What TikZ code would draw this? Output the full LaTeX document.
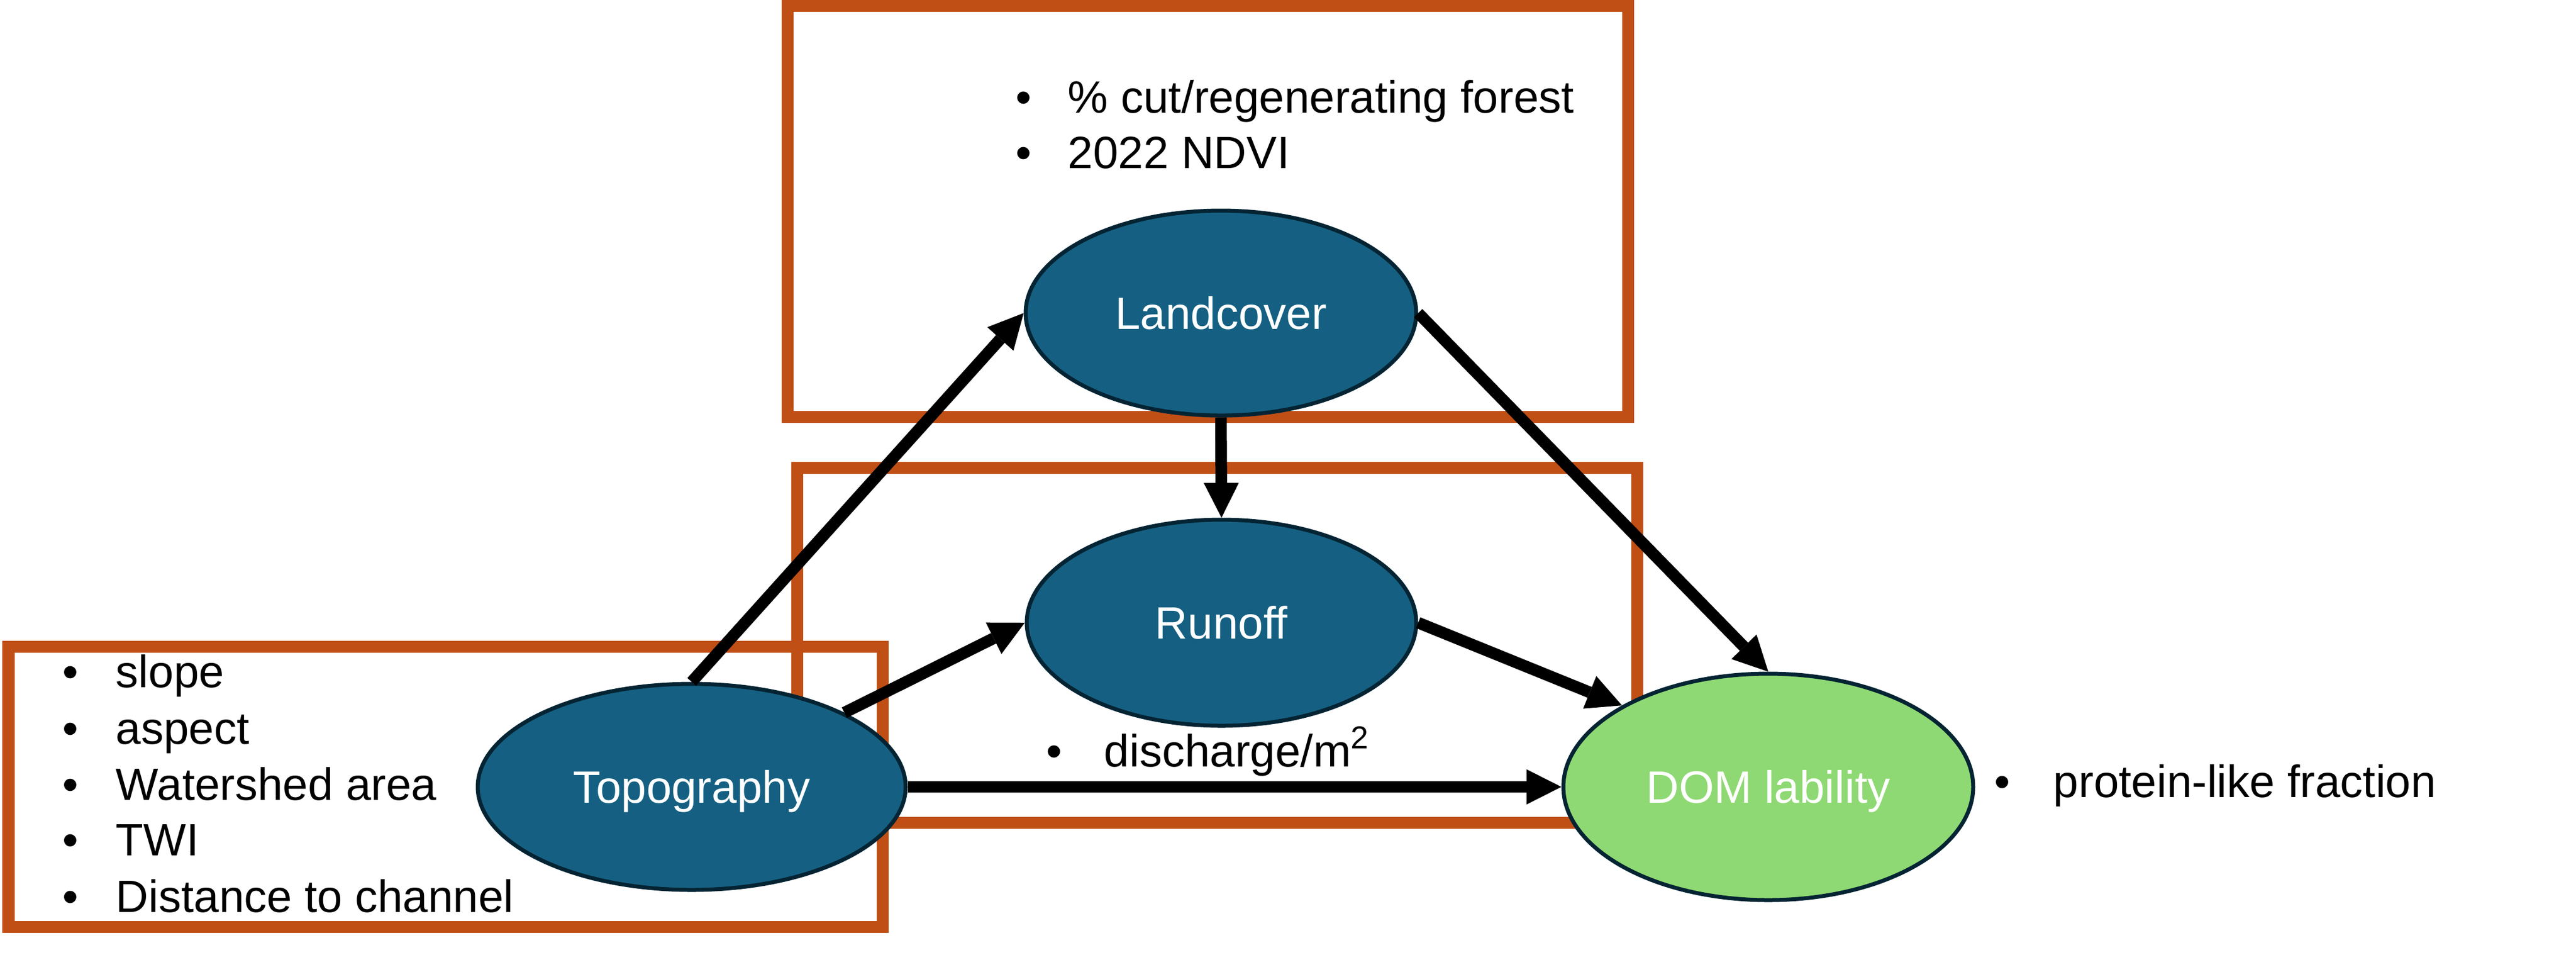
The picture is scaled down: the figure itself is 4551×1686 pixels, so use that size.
\documentclass[tikz,border=0pt]{standalone}
\usepackage{fontspec}
\setmainfont{Liberation Sans}
\usetikzlibrary{arrows.meta,shapes.geometric}
\definecolor{boxorange}{HTML}{C04F15}
\definecolor{nodeblue}{HTML}{156082}
\definecolor{nodeline}{HTML}{042433}
\definecolor{nodegreen}{HTML}{8ED973}
\begin{document}
\begin{tikzpicture}[x=0.2pt,y=-0.2pt,
  frame/.style={draw=boxorange, line width=4.2pt},
  var/.style={ellipse, draw=nodeline, line width=1.4pt, fill=nodeblue, text=white,
    inner sep=0pt, font=\fontsize{16}{19}\selectfont, text height=11.46pt, text depth=0pt},
  outcome/.style={var, fill=nodegreen},
  item/.style={anchor=base west, inner sep=0pt, font=\fontsize{16}{19}\selectfont},
  arr/.style={line width=4.1pt, -{Triangle[length=12.3pt,width=12.4pt,line width=0pt]}},
]
\useasboundingbox (0,0) rectangle (4551,1686);
\fill[white] (0,0) rectangle (4551,1686);

% frames
\draw[frame] (1391,10) rectangle (2876,736);
\draw[frame] (1408,826) rectangle (2892,1453);
\draw[frame] (15,1142) rectangle (1559,1637);

% variables
\node[var, minimum width=138pt, minimum height=72.4pt] (land) at (2157,553) {Landcover};
\node[var, minimum width=137.6pt, minimum height=72.8pt] (run) at (2158,1100) {Runoff};
\node[var, minimum width=151.2pt, minimum height=72.8pt] (topo) at (1222,1390) {Topography};
\node[outcome, minimum width=144.8pt, minimum height=80pt] (dom) at (3124,1390) {DOM lability};

% bullet lists
\node[item] (lc1) at (1793,199) {\makebox[18.6pt][l]{•}\% cut/regenerating forest};
\node[item] (lc2) at (1793,297) {\makebox[18.6pt][l]{•}2022 NDVI};

\node[item] (tp1) at (109,1214) {\makebox[19pt][l]{•}slope};
\node[item] (tp2) at (109,1314) {\makebox[19pt][l]{•}aspect};
\node[item] (tp3) at (109,1413) {\makebox[19pt][l]{•}Watershed area};
\node[item] (tp4) at (109,1511) {\makebox[19pt][l]{•}TWI};
\node[item] (tp5) at (109,1611) {\makebox[19pt][l]{•}Distance to channel};

\node[item] (ro1) at (1847,1354) {\makebox[20.6pt][l]{•}discharge/m\textsuperscript{2}};
\node[item] (dm1) at (3522,1408) {\makebox[21pt][l]{•}protein-like fraction};

% connectors
\draw[arr] (topo.north) -- (land.west);
\draw[arr] (topo.north east) -- (run.west);
\draw[arr] (topo.east) -- (dom.west);
\draw[arr] (land.south) -- (run.north);
\draw[arr] (land.east) -- (dom.north);
\draw[arr] (run.east) -- (dom.north west);
\end{tikzpicture}
\end{document}
